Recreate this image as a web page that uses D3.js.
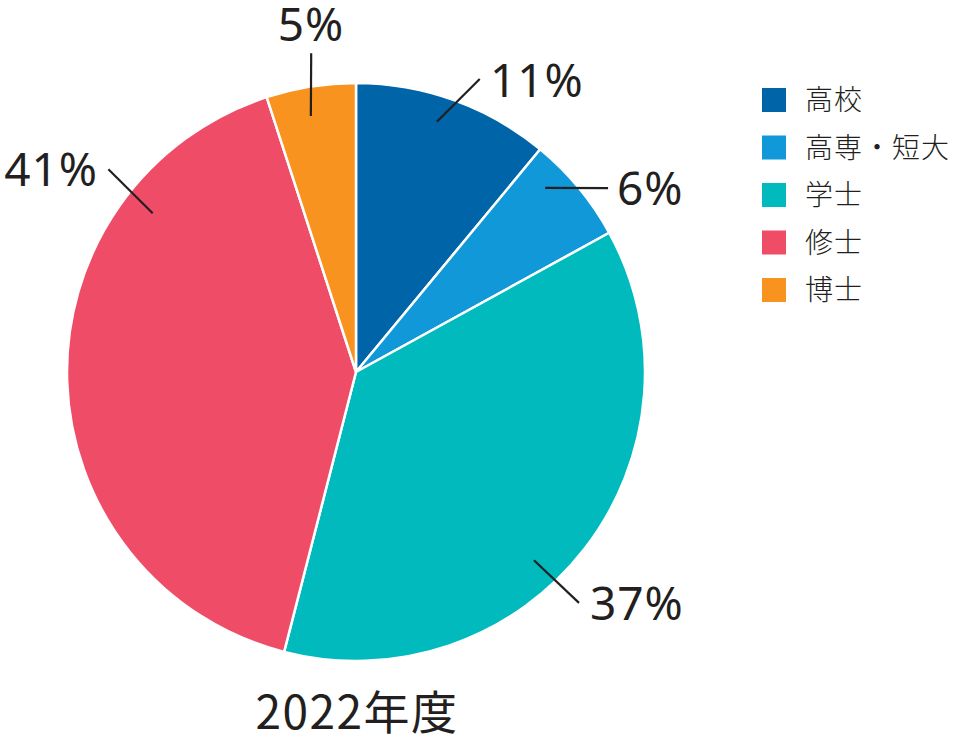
<!DOCTYPE html>
<html><head><meta charset="utf-8">
<script src="https://cdn.jsdelivr.net/npm/d3@7/dist/d3.min.js"></script>
<style>html,body{margin:0;padding:0;background:#fff;}</style>
</head><body>
<svg id="chart" width="960" height="743"></svg>
<script>
const categories = ["高校", "高専・短大", "学士", "修士", "博士"];
const values = [11, 6, 37, 41, 5];
const valueLabels = ["11%", "6%", "37%", "41%", "5%"];
const colors = ["#0064a9", "#1198d8", "#00babd", "#ef4d67", "#f7931e"];
const title = "2022年度";

// label leader layout: angle in degrees clockwise from top, radii in px
const labelLayout = [
  {a1: 17.9, r1: 263, a2: 22.9, r2: 318, tx: 134, ty: -275, anchor: "start"},
  {a1: 45.8, r1: 264, a2: 53.9, r2: 312, tx: 261, ty: -167, anchor: "start"},
  {a1: 136.6, r1: 259, a2: 136.0, r2: 321, tx: 234, ty: 248, anchor: "start"},
  {a1: 308.0, r1: 258, a2: 309.3, r2: 320, tx: -258, ty: -186, anchor: "end"},
  {a1: 350.0, r1: 260, a2: 352.0, r2: 322, tx: -45, ty: -331, anchor: "middle"}
];

const svg = d3.select("#chart");
const cx = 356, cy = 372, R = 289;
const g = svg.append("g").attr("transform", `translate(${cx},${cy})`);

const pie = d3.pie().sort(null).value(d => d);
const arc = d3.arc().innerRadius(0).outerRadius(R);
const arcs = pie(values);

g.selectAll("path.slice").data(arcs).enter().append("path")
  .attr("class", "slice")
  .attr("d", arc)
  .attr("fill", (d, i) => colors[i])
  .attr("stroke", "#fff")
  .attr("stroke-width", 2.5)
  .attr("stroke-linejoin", "round");

const polar = (a, r) => [r * Math.sin(a * Math.PI / 180), -r * Math.cos(a * Math.PI / 180)];

labelLayout.forEach((L, i) => {
  const p1 = polar(L.a1, L.r1), p2 = polar(L.a2, L.r2);
  g.append("line")
    .attr("x1", p1[0]).attr("y1", p1[1]).attr("x2", p2[0]).attr("y2", p2[1])
    .attr("stroke", "#231f20").attr("stroke-width", 2.2);
  g.append("text")
    .attr("x", L.tx).attr("y", L.ty)
    .attr("text-anchor", L.anchor)
    .attr("font-family", "'Noto Sans', 'DejaVu Sans', sans-serif")
    .attr("font-size", 46)
    .attr("letter-spacing", 1)
    .attr("fill", "#231f20")
    .text(valueLabels[i]);
});

svg.append("text")
  .attr("x", 357).attr("y", 729)
  .attr("text-anchor", "middle")
  .attr("font-family", "'Noto Sans CJK JP', 'Noto Sans', sans-serif")
  .attr("font-size", 46)
  .attr("letter-spacing", 1.5)
  .attr("fill", "#231f20")
  .text(title);

const legend = svg.append("g").attr("transform", "translate(762,88)");
const ly = d3.scaleBand().domain(categories).range([0, 47.5 * categories.length]);
const items = legend.selectAll("g.item").data(categories).enter().append("g")
  .attr("class", "item")
  .attr("transform", d => `translate(0,${ly(d)})`);
items.append("rect").attr("width", 24).attr("height", 24)
  .attr("fill", (d, i) => colors[i]);
items.append("text")
  .attr("x", 43).attr("y", 12).attr("dy", "0.36em")
  .attr("font-family", "'Noto Sans CJK JP', sans-serif")
  .attr("font-size", 28)
  .attr("font-weight", 300)
  .attr("letter-spacing", 1)
  .attr("fill", "#231f20")
  .text(d => d);
</script>
</body></html>
